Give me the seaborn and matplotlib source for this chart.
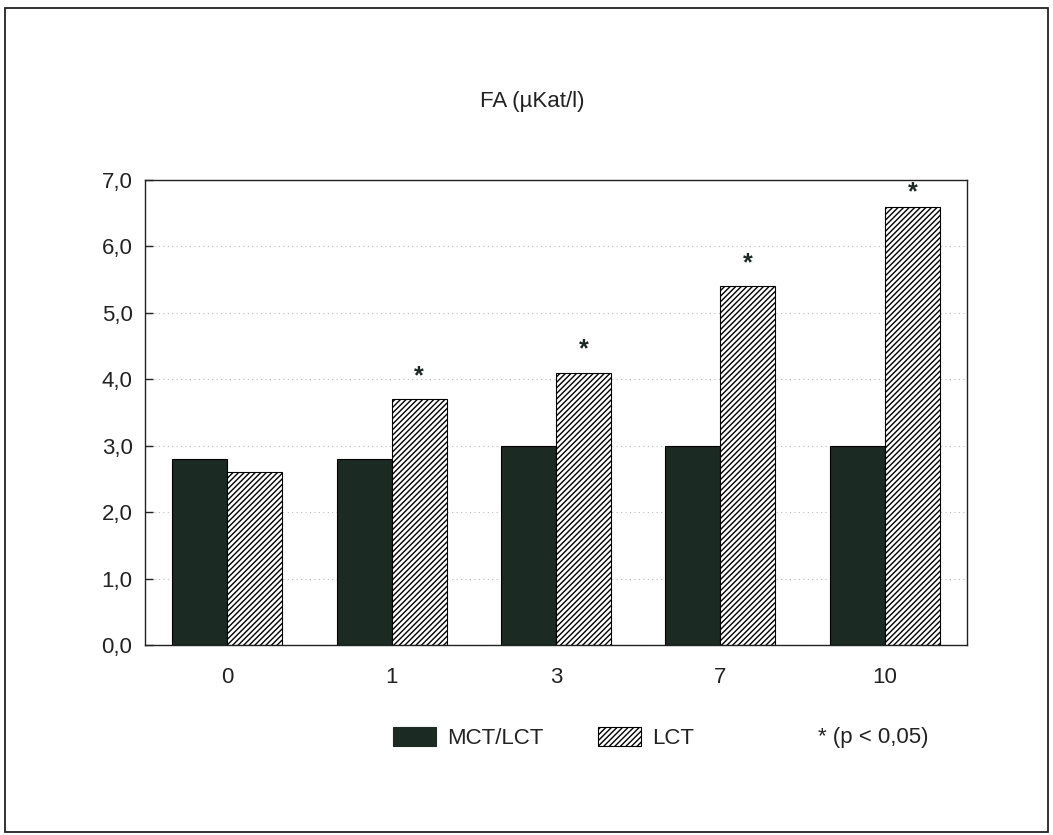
import pandas as pd
import matplotlib
matplotlib.use("Agg")
import matplotlib.pyplot as plt
from matplotlib.patches import Rectangle, Patch
import seaborn as sns

# data
days = ["0", "1", "3", "7", "10"]
mct_lct = [2.8, 2.8, 3.0, 3.0, 3.0]
lct = [2.6, 3.7, 4.1, 5.4, 6.6]
signif = [False, True, True, True, True]
yticks = [0, 1, 2, 3, 4, 5, 6, 7]

df = pd.DataFrame({
    "day": days * 2,
    "value": mct_lct + lct,
    "group": ["MCT/LCT"] * len(days) + ["LCT"] * len(days),
})

sns.set_style("white")
plt.rcParams["font.family"] = ["Liberation Sans", "DejaVu Sans"]
plt.rcParams["hatch.linewidth"] = 1.0
plt.rcParams["hatch.color"] = "#333333"

dark = "#1b2a23"
txt = "#222222"
fs = 16
fig = plt.figure(figsize=(10.53, 8.35), dpi=100)
ax = fig.add_axes([145 / 1053, 1 - 645 / 835, 822 / 1053, 465 / 835])

sns.barplot(data=df, x="day", y="value", hue="group", order=days,
            hue_order=["MCT/LCT", "LCT"], palette=[dark, "white"],
            width=0.67, gap=0, saturation=1, legend=False, ax=ax)

n = len(days)
for i, p in enumerate(ax.patches[:2 * n]):
    p.set_edgecolor("black")
    p.set_linewidth(0.8)
    if i >= n:
        p.set_hatch("//////")
        if signif[i - n]:
            # star sits above the bar, kept inside the frame
            ys = min(p.get_height() + 0.35, 6.82)
            ax.text(p.get_x() + p.get_width() / 2, ys, "*",
                    ha="center", va="center", fontsize=18, fontweight="bold",
                    color=dark)

ax.set_xlim(-0.5, 4.5)
ax.set_ylim(0, 7)
ax.set_yticks(yticks)
ax.set_yticklabels([f"{v:.1f}".replace(".", ",") for v in yticks])
ax.set_axisbelow(True)
ax.yaxis.grid(True, linestyle=(0, (1, 3)), color="#bbbbbb", linewidth=0.8)
ax.xaxis.grid(False)
for s in ax.spines.values():
    s.set_visible(True)
    s.set_color(txt)
    s.set_linewidth(1.0)
ax.tick_params(axis="y", left=True, direction="in", length=6, width=1,
               labelsize=fs, pad=9, colors=txt)
ax.tick_params(axis="x", bottom=False, labelsize=fs, pad=12, colors=txt)
ax.set_xlabel("")
ax.set_ylabel("")

fig.text(532 / 1053, 1 - 102 / 835, "FA (\u00b5Kat/l)", ha="center", va="center",
         fontsize=fs, color=txt)

# legend, one entry each so the spacing can follow the original
h1 = Patch(facecolor=dark, edgecolor=dark, linewidth=0.8)
h2 = Patch(facecolor="white", edgecolor="black", hatch="//////", linewidth=0.8)
for h, lab, x0 in [(h1, "MCT/LCT", 373), (h2, "LCT", 578)]:
    fig.legend([h], [lab], loc="center left",
               bbox_to_anchor=(x0 / 1053, 1 - 738 / 835), frameon=False,
               fontsize=fs, handlelength=1.95, handleheight=0.95,
               handletextpad=0.5, labelcolor=txt)
fig.text(818 / 1053, 1 - 738 / 835, "* (p < 0,05)", ha="left", va="center",
         fontsize=fs, color=txt)

fig.patches.append(Rectangle((5 / 1053, 3 / 835), 1043 / 1053, 824 / 835,
                             transform=fig.transFigure, fill=False,
                             edgecolor=txt, linewidth=1.3))

fig.savefig("out.png", dpi=100)
